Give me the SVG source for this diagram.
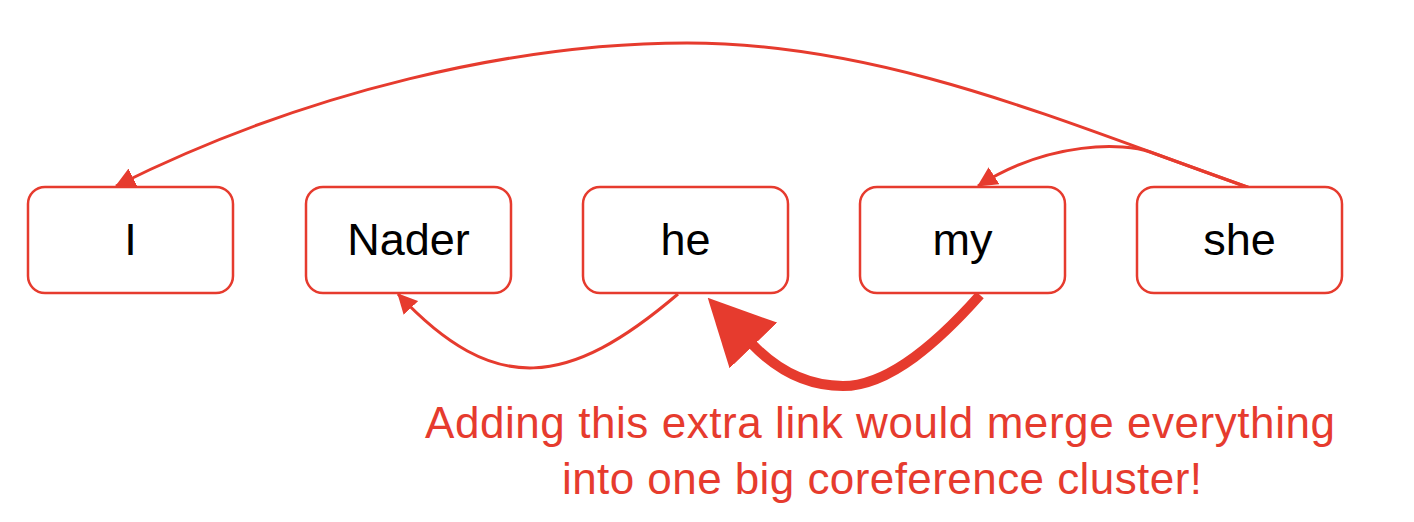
<svg xmlns="http://www.w3.org/2000/svg" width="1414" height="522" viewBox="0 0 1414 522">
  <style>
    .box { fill: #ffffff; stroke: #e63b2e; stroke-width: 2.5; }
    .lbl { font-family: "Liberation Sans", Arial, sans-serif; font-size: 45px; fill: #000000; text-anchor: middle; }
    .link { fill: none; stroke: #e63b2e; stroke-width: 3; }
    .thick { fill: none; stroke: #e63b2e; stroke-width: 10; }
    .note { font-family: "Liberation Sans", Arial, sans-serif; font-size: 44px; fill: #e63b2e; text-anchor: middle; }
  </style>
  <defs>
    <marker id="ah" viewBox="0 0 20 20" markerUnits="userSpaceOnUse" markerWidth="20" markerHeight="20" refX="19" refY="10" orient="auto">
      <path d="M0,0 L20,10 L0,20 Z" fill="#e63b2e"/>
    </marker>
    <marker id="ahBig" viewBox="0 0 66 66" markerUnits="userSpaceOnUse" markerWidth="66" markerHeight="66" refX="2" refY="33" orient="auto">
      <path d="M0,0 L66,33 L0,66 Z" fill="#e63b2e"/>
    </marker>
  </defs>

  <g id="connectors">
    <path id="she-I" class="link" d="M1250,188 C1070,125 887,43 687,43 C517,43 306,91 116,186" marker-end="url(#ah)"/>
    <path id="she-my" class="link" d="M1250,188 L1150,152 C1125,143 1050,140 978,186" marker-end="url(#ah)"/>
    <path id="he-Nader" class="link" d="M678,294 C569,387 495,398 398,294" marker-end="url(#ah)"/>
    <path id="my-he" class="thick" d="M980,295 C940,340 890,386 843,386 C805,386 775,368 752,344" marker-end="url(#ahBig)"/>
  </g>

  <g id="node-I">
    <rect class="box" x="28" y="187" width="205" height="106" rx="17"/>
    <text class="lbl" x="130.5" y="255">I</text>
  </g>
  <g id="node-Nader">
    <rect class="box" x="306" y="187" width="205" height="106" rx="17"/>
    <text class="lbl" x="408.5" y="255">Nader</text>
  </g>
  <g id="node-he">
    <rect class="box" x="583" y="187" width="205" height="106" rx="17"/>
    <text class="lbl" x="685.5" y="255">he</text>
  </g>
  <g id="node-my">
    <rect class="box" x="860" y="187" width="205" height="106" rx="17"/>
    <text class="lbl" x="962.5" y="255">my</text>
  </g>
  <g id="node-she">
    <rect class="box" x="1137" y="187" width="205" height="106" rx="17"/>
    <text class="lbl" x="1239.5" y="255">she</text>
  </g>

  <g id="note">
    <text class="note" x="880" y="438" textLength="910">Adding this extra link would merge everything</text>
    <text class="note" x="882" y="494" textLength="640">into one big coreference cluster!</text>
  </g>
</svg>
